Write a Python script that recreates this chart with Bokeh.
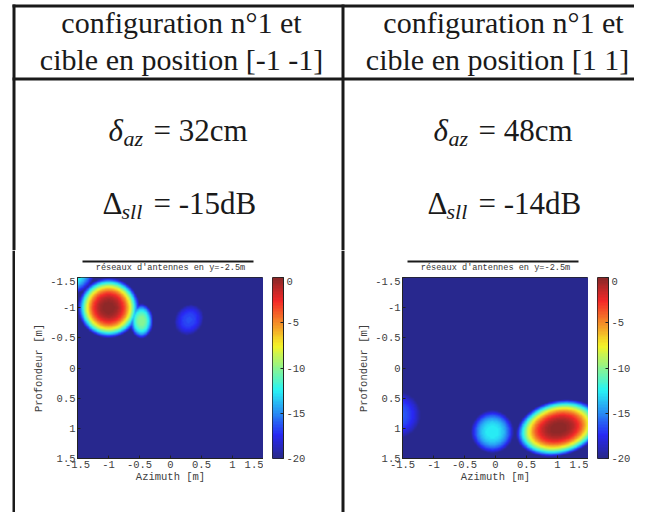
import numpy as np
from bokeh.plotting import figure
from bokeh.layouts import row, column
from bokeh.models import Range1d, LinearColorMapper, FixedTicker
from bokeh.embed import file_html
from bokeh.resources import INLINE
from bokeh.core.properties import value

# ---------------- data ----------------
header_left = ["configuration n°1 et", "cible en position [-1 -1]"]
header_right = ["configuration n°1 et", "cible en position [1 1]"]
delta_az_values = ["32cm", "48cm"]
delta_sll_values = ["-15dB", "-14dB"]
plot_title = "réseaux d'antennes en y=-2.5m"
x_label = "Azimuth [m]"
y_label = "Profondeur [m]"
axis_ticks = [-1.5, -1.0, -0.5, 0.0, 0.5, 1.0, 1.5]
axis_tick_labels = ["-1.5", "-1", "-0.5", "0", "0.5", "1", "1.5"]
cbar_ticks = [0, -5, -10, -15, -20]
cbar_tick_labels = ["0", "-5", "-10", "-15", "-20"]
db_floor = -20.0
db_top = 0.0
extent = [-1.5, 1.5]

# lobes (azimuth centre, depth centre, peak dB, half widths, tilt)
left_lobe_az = [-1.0, -0.47, 0.30, -1.62]
left_lobe_depth = [-1.0, -0.78, -0.80, -1.62]
left_lobe_peak = [0.0, -10.0, -16.5, -11.0]
left_lobe_raz = [0.50, 0.19, 0.23, 0.40]
left_lobe_rdepth = [0.50, 0.29, 0.27, 0.40]
left_lobe_tilt = [0.0, 0.0, 30.0, 0.0]

right_lobe_az = [1.02, -0.05, -1.62]
right_lobe_depth = [1.0, 1.06, 0.78]
right_lobe_peak = [0.0, -12.5, -16.0]
right_lobe_raz = [0.70, 0.35, 0.42]
right_lobe_rdepth = [0.46, 0.36, 0.40]
right_lobe_tilt = [-14.0, 0.0, 0.0]

# ---------------- helpers ----------------
N = 301
grid = np.linspace(extent[0], extent[1], N)


def field(az, dep, peak, raz, rdep, tilt):
    A, D = np.meshgrid(grid, grid)  # rows follow depth
    out = np.full(A.shape, db_floor)
    for a, d, pk, ra, rd, t in zip(az, dep, peak, raz, rdep, tilt):
        th = np.deg2rad(t)
        dx, dy = A - a, D - d
        u = (dx * np.cos(th) + dy * np.sin(th)) / ra
        v = (-dx * np.sin(th) + dy * np.cos(th)) / rd
        r = np.minimum(np.sqrt(u * u + v * v), 1.0)
        out = np.maximum(out, pk - (pk - db_floor) * r ** 2.6)
    return out


def jet(n):
    cols = []
    for t in np.linspace(0, 1, n):
        r = np.clip(1.5 - abs(4 * t - 3), 0, 1)
        g = np.clip(1.5 - abs(4 * t - 2), 0, 1)
        b = np.clip(1.5 - abs(4 * t - 1), 0, 1)
        cols.append("#%02x%02x%02x" % tuple(int(40 + 0.8 * 255 * c) for c in (r, g, b)))
    return cols


mapper = LinearColorMapper(palette=jet(64), low=db_floor, high=db_top)

SERIF = value("Liberation Serif")
MONO = value("Liberation Mono")
AX_COLOR = "#404040"
INK = "#1a1a1a"


def blank(w, h, xr, yr):
    p = figure(width=w, height=h, x_range=xr, y_range=yr, output_backend="svg",
               toolbar_location=None, min_border=0, x_axis_location=None,
               y_axis_location=None, outline_line_color=None)
    p.grid.visible = False
    return p


# ---------------- top part: table header and values ----------------
TW, TH = 634, 250
top = blank(TW, TH, Range1d(0, TW), Range1d(TH, 0))
top.quad(left=[12, 12, 12, 341], right=[TW, TW, 15, 344], top=[4, 77, 4, 4],
         bottom=[7, 80, TH, TH], color=INK, line_color=None)

top.text(x=[181, 181], y=[22, 59], text=header_left, text_font=SERIF,
         text_font_size="30px", text_align="center", text_baseline="alphabetic",
         text_color=INK)
top.text(x=[503, 497], y=[22, 59], text=header_right, text_font=SERIF,
         text_font_size="30px", text_align="center", text_baseline="alphabetic",
         text_color=INK)

for i, off in enumerate([0, 325]):
    top.text(x=[108 + off], y=[130], text=["δ"], text_font=SERIF, text_font_style="italic",
             text_font_size="31px", text_baseline="alphabetic", text_color=INK)
    top.text(x=[123 + off], y=[138], text=["az"], text_font=SERIF, text_font_style="italic",
             text_font_size="22px", text_baseline="alphabetic", text_color=INK)
    top.text(x=[153 + off], y=[130], text=["= " + delta_az_values[i]], text_font=SERIF,
             text_font_size="31px", text_baseline="alphabetic", text_color=INK)
    top.text(x=[102 + off], y=[203], text=["Δ"], text_font=SERIF,
             text_font_size="31px", text_baseline="alphabetic", text_color=INK)
    top.text(x=[121 + off], y=[211], text=["sll"], text_font=SERIF, text_font_style="italic",
             text_font_size="22px", text_baseline="alphabetic", text_color=INK)
    top.text(x=[153 + off], y=[203], text=["= " + delta_sll_values[i]], text_font=SERIF,
             text_font_size="31px", text_baseline="alphabetic", text_color=INK)

# ---------------- bottom part ----------------
BH = 512 - TH   # whole bottom height
TTH = 27        # title strip height
RH = BH - TTH   # heat row height
BB = RH - 181   # bottom border under the frames


def strip(w, x0, x1):
    p = blank(w, BH, Range1d(0, w), Range1d(BH, 0))
    p.quad(left=[x0], right=[x1], top=[0], bottom=[BH], color=INK, line_color=None)
    return p


def title_fig(w, l0, l1, xc):
    p = blank(w, TTH, Range1d(0, w), Range1d(TTH, 0))
    p.quad(left=[l0], right=[l1], top=[10], bottom=[12], color=INK, line_color=None)
    p.text(x=[xc], y=[17], text=[plot_title], text_font=MONO, text_font_size="8.6px",
           text_align="center", text_baseline="alphabetic", text_color="#333333")
    return p


def style_axis(ax, size="10.5px"):
    ax.major_label_text_font = "Liberation Mono"
    ax.major_label_text_font_size = size
    ax.major_label_text_color = AX_COLOR
    ax.axis_label_text_font = "Liberation Mono"
    ax.axis_label_text_font_size = "10.5px"
    ax.axis_label_text_font_style = "normal"
    ax.axis_label_text_color = AX_COLOR
    ax.major_tick_in = 3
    ax.major_tick_out = 0
    ax.minor_tick_line_color = None
    ax.axis_line_color = "#222222"
    ax.major_tick_line_color = "#222222"


def heat(Z, w, left_border):
    p = figure(width=w, height=RH, x_range=Range1d(*extent), y_range=Range1d(extent[1], extent[0]),
               output_backend="svg", toolbar_location=None, min_border_left=left_border,
               min_border_right=0, min_border_top=0, min_border_bottom=BB,
               outline_line_color="#222222")
    p.grid.visible = False
    p.image(image=[Z], x=extent[0], y=extent[0], dw=extent[1] - extent[0],
            dh=extent[1] - extent[0], color_mapper=mapper)
    for ax in (p.xaxis[0], p.yaxis[0]):
        ax.ticker = FixedTicker(ticks=axis_ticks)
        ax.major_label_overrides = {float(t): s for t, s in zip(axis_ticks, axis_tick_labels)}
        style_axis(ax)
    p.xaxis.axis_label = x_label
    p.yaxis.axis_label = y_label
    p.xaxis.major_label_standoff = 2
    p.xaxis.axis_label_standoff = 0
    p.yaxis.major_label_standoff = 2
    p.yaxis.axis_label_standoff = 2
    return p


def cbar(w, right_border):
    p = figure(width=w, height=RH, x_range=Range1d(0, 1), y_range=Range1d(db_floor, db_top),
               output_backend="svg", toolbar_location=None, min_border_left=9,
               min_border_right=right_border, min_border_top=0, min_border_bottom=BB,
               x_axis_location=None, y_axis_location="right", outline_line_color="#222222")
    p.grid.visible = False
    levels = np.linspace(db_floor, db_top, 256).reshape(-1, 1)
    p.image(image=[levels], x=0, y=db_floor, dw=1, dh=db_top - db_floor, color_mapper=mapper)
    ax = p.yaxis[0]
    ax.ticker = FixedTicker(ticks=cbar_ticks)
    ax.major_label_overrides = {float(t): s for t, s in zip(cbar_ticks, cbar_tick_labels)}
    style_axis(ax)
    ax.major_label_standoff = 3
    return p


Z_left = field(left_lobe_az, left_lobe_depth, left_lobe_peak, left_lobe_raz,
               left_lobe_rdepth, left_lobe_tilt)
Z_right = field(right_lobe_az, right_lobe_depth, right_lobe_peak, right_lobe_raz,
                right_lobe_rdepth, right_lobe_tilt)

h1 = heat(Z_left, 248, 62)
c1 = cbar(75, 55)
h2 = heat(Z_right, 241, 55)
c2 = cbar(46, 26)

t1 = title_fig(323, 67, 238, 155)
t2 = title_fig(287, 60, 231, 148)

bottom = row(strip(15, 12, 15), column(t1, row(h1, c1)), strip(9, 3, 6),
             column(t2, row(h2, c2)))
layout = column(top, bottom)

open("out.html", "w").write(file_html(layout, INLINE))
